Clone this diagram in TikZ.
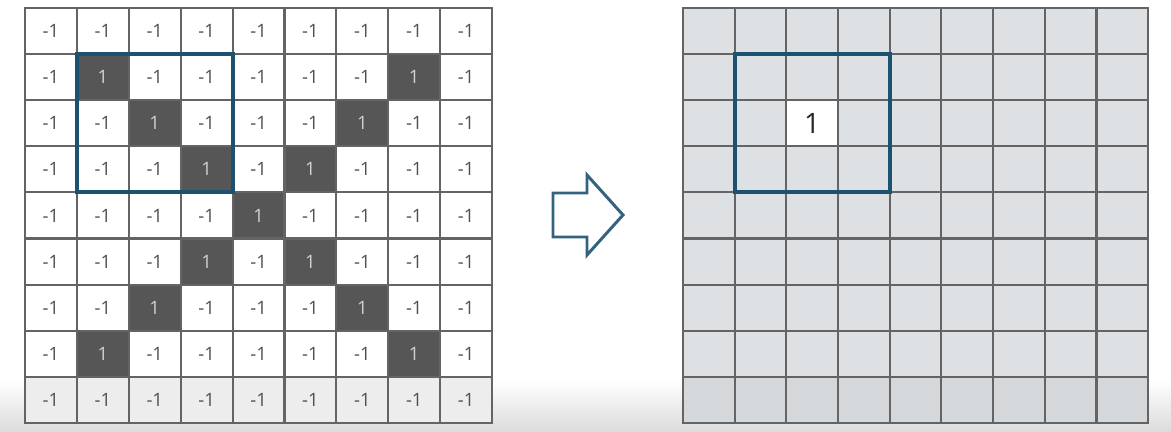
\documentclass[tikz,border=0pt]{standalone}
\usepackage{fontspec}
\setmainfont{Open Sans}
\definecolor{framegrid}{RGB}{100,100,100}
\definecolor{darkcell}{RGB}{86,86,86}
\definecolor{numgrey}{RGB}{80,80,80}
\definecolor{featgrey}{RGB}{221,225,228}
\definecolor{boxblue}{RGB}{28,82,112}
\begin{document}
\begin{tikzpicture}[
  x=0.02cm, y=-0.02cm,
  font=\fontsize{10.5}{12}\selectfont,
  cell/.style={
    rectangle, draw=framegrid, line width=1.2pt, outer sep=0pt, inner sep=0pt,
    minimum width=1.038cm, minimum height=0.922cm, text=numgrey
  },
  ocell/.style={cell, fill=white},
  xcell/.style={cell, fill=darkcell, text=black!18},
  fcell/.style={cell, fill=featgrey},
  window/.style={draw=boxblue, line width=2.3pt},
  bigarrow/.style={draw=boxblue!90, line width=1.7pt, line join=miter, fill=white},
]
\useasboundingbox (0,0) rectangle (1171,432);

% faint shade at the bottom of the slide
\shade[top color=white, bottom color=black!14] (0,380) rectangle (1171,432);

% Input image: an X made of 1s on a field of -1s
\foreach \r in {0,...,8} {
  \foreach \c in {0,...,8} {
    \pgfmathtruncatemacro{\isx}{(\r>0)&&(\r<8)&&((\c==\r)||(\c==8-\r))}
    \ifnum\isx=1
      \node[xcell] (L-\r-\c) at ({25+51.9*(\c+0.5)},{8+46.1*(\r+0.5)}) {1};
    \else
      \ifnum\r=8
        \node[ocell, fill=black!7] (L-\r-\c) at ({25+51.9*(\c+0.5)},{8+46.1*(\r+0.5)}) {-1};
      \else
        \node[ocell] (L-\r-\c) at ({25+51.9*(\c+0.5)},{8+46.1*(\r+0.5)}) {-1};
      \fi
    \fi
  }
}

% Feature map
\foreach \r in {0,...,8} {
  \foreach \c in {0,...,8} {
    \ifnum\r=8
      \node[fcell, fill=featgrey!96!black] (R-\r-\c) at ({683+51.7*(\c+0.5)},{8+46.1*(\r+0.5)}) {};
    \else
      \node[fcell] (R-\r-\c) at ({683+51.7*(\c+0.5)},{8+46.1*(\r+0.5)}) {};
    \fi
  }
}
\node[fcell, fill=white, font=\fontsize{16}{18}\selectfont, text=black!85] (R-2-2) at (R-2-2) {1};

% 3x3 windows
\draw[window] (L-1-1.north west) rectangle (L-3-3.south east);
\draw[window] (R-1-1.north west) rectangle (R-3-3.south east);

% Arrow between the two grids
\draw[bigarrow] (553,193) -- (587,193) -- (587,175) -- (623,215)
  -- (587,255) -- (587,237) -- (553,237) -- cycle;

\end{tikzpicture}
\end{document}
